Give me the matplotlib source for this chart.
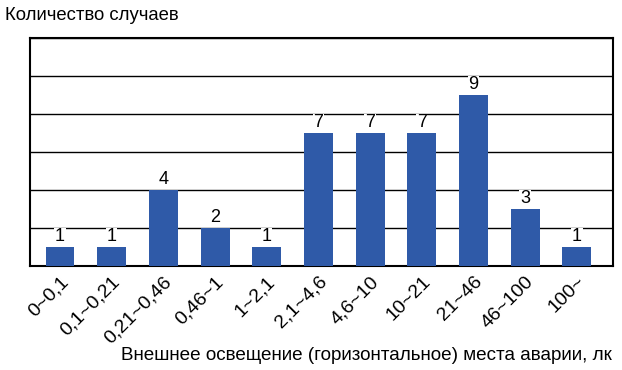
import numpy as np
from matplotlib import pyplot as plt

plt.rcParams['font.family'] = ['Liberation Sans', 'DejaVu Sans']

categories = ['0~0,1', '0,1~0,21', '0,21~0,46', '0,46~1', '1~2,1', '2,1~4,6',
              '4,6~10', '10~21', '21~46', '46~100', '100~']
counts = [1, 1, 4, 2, 1, 7, 7, 7, 9, 3, 1]

fig = plt.figure(figsize=(6.22, 3.70), dpi=100)
ax = fig.add_axes([30 / 622, 1 - 266 / 370, 583 / 622, 228 / 370])

x = np.arange(len(categories))
bars = ax.bar(x, counts, width=0.56, color='#2f5aa8', zorder=3)

# value labels on top of each bar
for b, v in zip(bars, counts):
    ax.text(b.get_x() + b.get_width() / 2, v + 0.08, str(v), ha='center', va='bottom',
            fontsize=13, color='black', zorder=4,
            bbox=dict(facecolor='white', edgecolor='none', pad=0.5))

ax.set_xlim(-0.58, 10.7)
ax.set_ylim(0, 12)
ax.set_yticks(np.arange(0, 13, 2))
ax.set_yticklabels([])
ax.tick_params(axis='y', length=0)
ax.grid(axis='y', color='black', linewidth=1.0, zorder=1)

ax.set_xticks(x)
ax.set_xticklabels(categories, rotation=45, ha='right', va='top', rotation_mode='anchor',
                   fontsize=14)
ax.tick_params(axis='x', length=0, pad=5)

for s in ax.spines.values():
    s.set_linewidth(1.5)
    s.set_color('black')

fig.text(5 / 622, 1 - 16 / 370, 'Количество случаев', fontsize=13.3, ha='left', va='center')
fig.text(612 / 622, 1 - 355 / 370, 'Внешнее освещение (горизонтальное) места аварии, лк',
         fontsize=13.6, ha='right', va='center')

fig.savefig('out.png', dpi=100)
